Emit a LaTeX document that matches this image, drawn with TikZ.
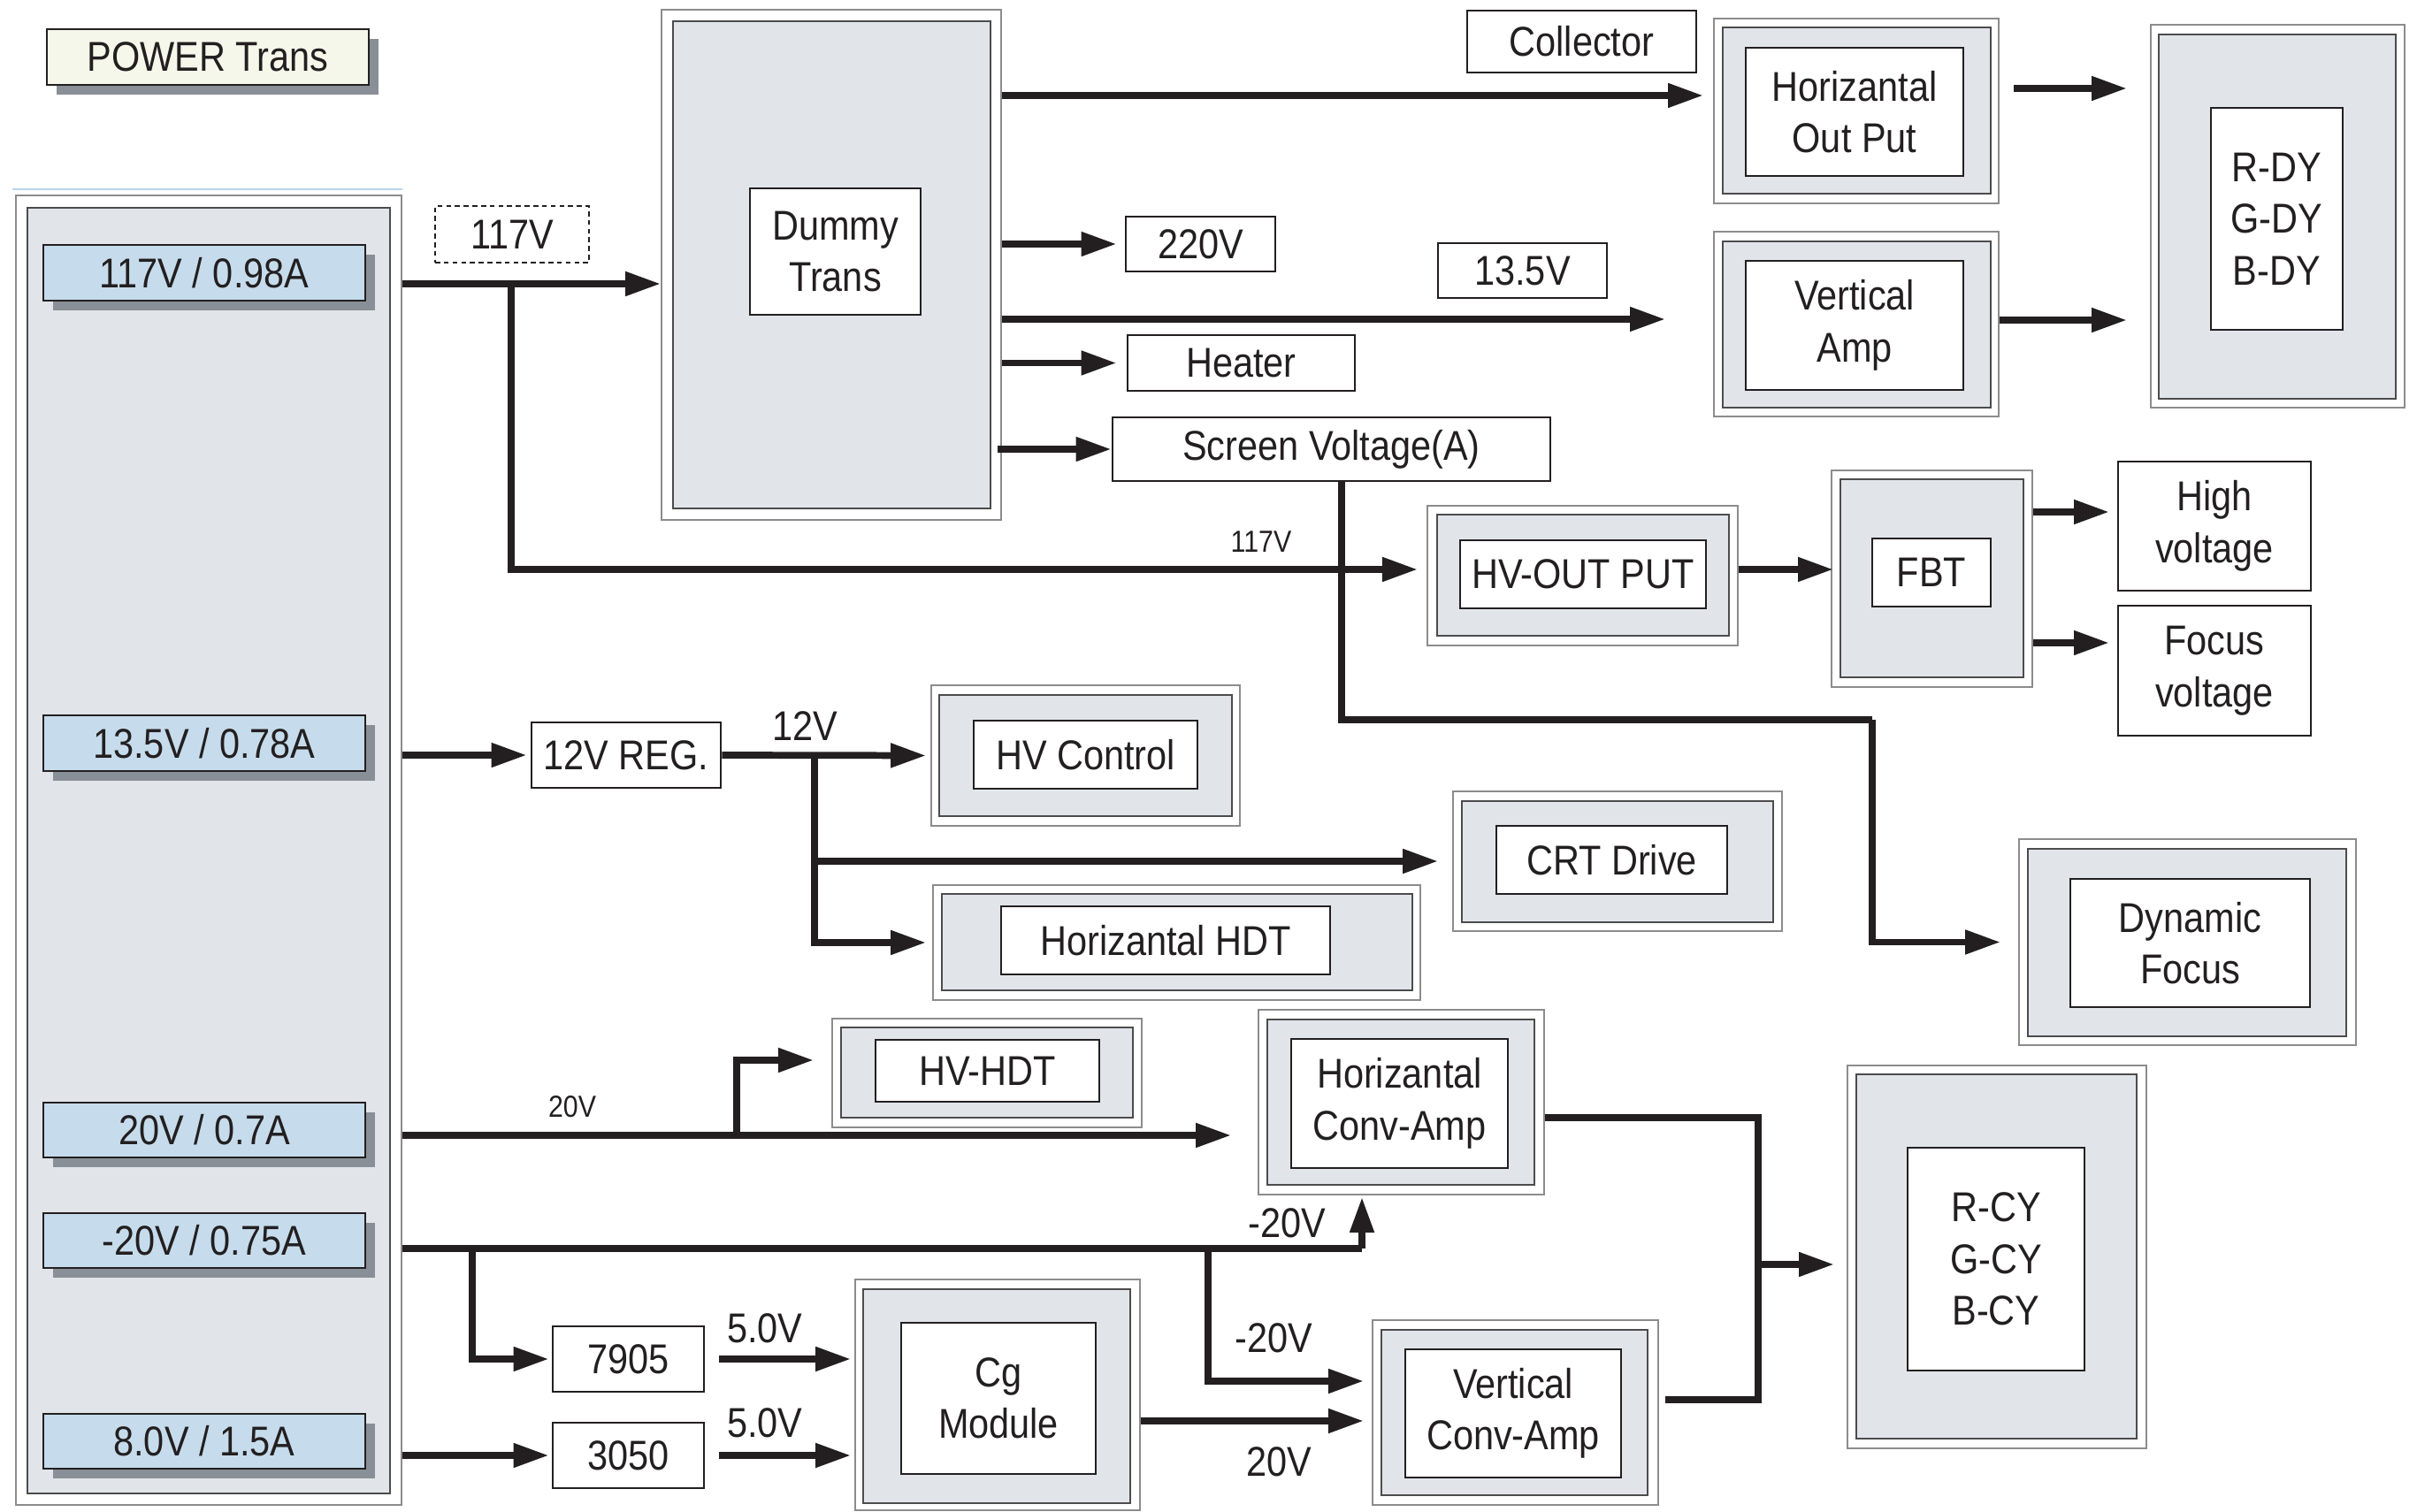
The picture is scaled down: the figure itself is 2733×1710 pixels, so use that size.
\documentclass[tikz,border=0pt]{standalone}
\usepackage{fontspec}
\setmainfont{Liberation Sans}[FakeStretch=0.88]
\usepackage{tikz}
\usetikzlibrary{arrows.meta,fit,shadows}
\definecolor{panelgray}{HTML}{E1E5EA}
\definecolor{vblue}{HTML}{C6DCEC}
\definecolor{shadowgray}{HTML}{898F96}
\definecolor{cream}{HTML}{F5F7EA}
\definecolor{linecol}{HTML}{231F20}
\definecolor{skyline}{HTML}{B9D3EA}
\newcommand{\boxfont}{\fontsize{13.4pt}{16.6pt}\selectfont}
\newcommand{\tinyfont}{\fontsize{9.8pt}{12pt}\selectfont}
\tikzset{
  frame/.style={rectangle, draw=black!45, line width=0.5pt, fill=white, inner sep=0pt},
  panel/.style={rectangle, draw=black!70, line width=0.6pt, fill=panelgray, inner sep=0pt},
  tbox/.style={rectangle, draw=linecol, line width=0.8pt, fill=white, inner sep=0pt},
  vbox/.style={rectangle, draw=linecol, line width=0.7pt, fill=vblue, inner sep=0pt,
    drop shadow={shadow xshift=0.11cm, shadow yshift=-0.11cm, fill=shadowgray, opacity=1}},
  titlebox/.style={vbox, fill=cream},
  dbox/.style={rectangle, draw=linecol, line width=0.5pt, dash pattern=on 1.6pt off 1.2pt, inner sep=0pt},
  vlabel/.style={inner sep=0pt, align=center, text=linecol, font=\boxfont},
  slabel/.style={inner sep=0pt, text=linecol, font=\tinyfont},
  pline/.style={line width=2.2pt, draw=linecol},
  parrow/.style={pline, -{Triangle[length=0.4cm,width=0.26cm]}},
}
% box fitted to two corners, text centred in it
\newcommand{\tbnode}[4][tbox]{%
  \node[#1, fit={#3}] (#2) {};
  \node[vlabel] (#2T) at (#2.center) {#4};}
% outer frame, grey panel and white text box of one unit
\newcommand{\unitbox}[5]{%
  \node[frame, fit={#2}] (#1O) {};
  \node[panel, fit={#3}] (#1G) {};
  \tbnode{#1}{#4}{#5}}

\begin{document}
\begin{tikzpicture}[x=0.01cm, y=-0.01cm]
  \useasboundingbox (0,0) rectangle (2733,1710);

  % power transformer panel
  \tbnode[titlebox]{title}{(53,33)(417,96)}{POWER Trans}
  \node[frame, fit={(18,221)(454,1702)}] (psuO) {};
  \node[panel, fit={(31,235)(441,1689)}] (psu) {};
  \draw[skyline, line width=0.6pt] ([shift={(-0.03cm,0.06cm)}]psuO.north west) -- ([yshift=0.06cm]psuO.north east);
  \tbnode[vbox]{v117}{(49,277)(413,340)}{117V / 0.98A}
  \tbnode[vbox]{v135}{(49,809)(413,872)}{13.5V / 0.78A}
  \tbnode[vbox]{v20}{(49,1247)(413,1309)}{20V / 0.7A}
  \tbnode[vbox]{vm20}{(49,1372)(413,1434)}{-20V / 0.75A}
  \tbnode[vbox]{v8}{(49,1599)(413,1661)}{8.0V / 1.5A}

  % units
  \tbnode[dbox]{t117}{(492,233)(666,297)}{117V}
  \node[frame, fit={(748,11)(1132,588)}] (dummyO) {};
  \node[panel, fit={(761,24)(1120,575)}] (dummyG) {};
  \tbnode{dummy}{(848,213)(1041,356)}{Dummy\\Trans}
  \tbnode{coll}{(1659,12)(1918,82)}{Collector}
  \tbnode{t220}{(1273,245)(1442,307)}{220V}
  \tbnode{t135}{(1626,275)(1817,337)}{13.5V}
  \tbnode{heater}{(1275,379)(1532,442)}{Heater}
  \tbnode{screen}{(1258,472)(1753,544)}{Screen Voltage(A)}
  \unitbox{hop}{(1938,21)(2260,230)}{(1948,31)(2251,219)}{(1974,54)(2220,199)}{Horizantal\\Out Put}
  \unitbox{va}{(1938,262)(2260,471)}{(1948,273)(2251,461)}{(1974,295)(2220,441)}{Vertical\\Amp}
  \unitbox{dy}{(2432,28)(2719,461)}{(2441,39)(2709,451)}{(2500,122)(2649,373)}{R-DY\\G-DY\\B-DY}
  \unitbox{hvo}{(1614,572)(1965,730)}{(1625,582)(1955,719)}{(1651,611)(1929,688)}{HV-OUT PUT}
  \unitbox{fbt}{(2071,532)(2298,777)}{(2081,542)(2288,766)}{(2117,609)(2251,686)}{FBT}
  \tbnode{high}{(2395,522)(2613,668)}{High\\voltage}
  \tbnode{focus}{(2395,685)(2613,832)}{Focus\\voltage}
  \tbnode{reg12}{(601,817)(815,891)}{12V REG.}
  \unitbox{hvc}{(1053,775)(1402,934)}{(1062,786)(1393,923)}{(1101,815)(1354,892)}{HV Control}
  \unitbox{crt}{(1643,895)(2015,1053)}{(1653,906)(2005,1043)}{(1692,934)(1953,1011)}{CRT Drive}
  \unitbox{hdt}{(1055,1001)(1606,1131)}{(1065,1011)(1597,1120)}{(1132,1025)(1504,1102)}{Horizantal HDT}
  \unitbox{df}{(2283,949)(2664,1182)}{(2293,960)(2653,1172)}{(2341,994)(2612,1139)}{Dynamic\\Focus}
  \unitbox{hvh}{(941,1152)(1291,1275)}{(951,1162)(1281,1264)}{(990,1176)(1243,1246)}{HV-HDT}
  \unitbox{hca}{(1423,1142)(1746,1351)}{(1433,1153)(1735,1340)}{(1460,1175)(1705,1321)}{Horizantal\\Conv-Amp}
  \unitbox{cy}{(2089,1205)(2427,1638)}{(2099,1215)(2416,1627)}{(2157,1298)(2357,1550)}{R-CY\\G-CY\\B-CY}
  \tbnode{r7905}{(625,1500)(796,1574)}{7905}
  \tbnode{r3050}{(625,1609)(796,1683)}{3050}
  \unitbox{cg}{(967,1447)(1289,1708)}{(976,1458)(1278,1700)}{(1019,1496)(1239,1667)}{Cg\\Module}
  \unitbox{vca}{(1552,1493)(1875,1702)}{(1562,1504)(1863,1691)}{(1589,1526)(1833,1671)}{Vertical\\Conv-Amp}

  % junctions and arrow ends
  \coordinate (j117) at (578,321);
  \coordinate (hvoA) at (1603,644);
  \coordinate (fbtA) at (2073,644);
  \coordinate (hopA) at (1926,108);
  \coordinate (vaA) at (1883,361);
  \coordinate (dyA) at (2405,100);
  \coordinate (dyB) at (2405,362);
  \coordinate (hvA) at (2385,579);
  \coordinate (fvA) at (2385,727);
  \coordinate (sv) at (1517,814);
  \coordinate (sw) at (2117,814);
  \coordinate (j12) at (921,856);
  \coordinate (j20) at (833,1284);
  \coordinate (hvhA) at (920,1199);
  \coordinate (m20) at (1540,1412);
  \coordinate (j20a) at (534,1412);
  \coordinate (j20b) at (1366,1412);
  \coordinate (vcaA) at (1542,1562);
  \coordinate (vcaB) at (1542,1607);
  \coordinate (mA) at (1988,1264);
  \coordinate (mB) at (1988,1583);
  \coordinate (cyA) at (2074,1430);

  % 117V
  \draw[parrow] (psuO.east |- j117) -- (dummyO.west |- j117);
  \draw[parrow] (j117) |- (hvoA);
  \node[slabel] (l117) at (1426,613) {117V};
  \draw[parrow] (dummyO.east |- hopA) -- (hopA);
  \draw[parrow, shorten >=0.09cm] (dummyO.east |- t220) -- (t220.west);
  \draw[parrow] (dummyO.east |- vaA) -- (vaA);
  \draw[parrow, shorten >=0.11cm] (dummyO.east |- heater) -- (heater.west);
  \draw[parrow] ([xshift=-0.05cm]dummyO.east |- screen) -- (screen.west);
  \draw[pline] (screen.south -| sv) -- (sv) -- (sw);
  \draw[parrow, shorten >=0.2cm] (sw) |- (dfO.west);
  \draw[parrow] ([xshift=0.16cm]hopO.east |- dyA) -- (dyA);
  \draw[parrow] (vaO.east |- dyB) -- (dyB);
  \draw[parrow] (hvoO.east |- fbtA) -- (fbtA);
  \draw[parrow] (fbtO.east |- hvA) -- (hvA);
  \draw[parrow] (fbtO.east |- fvA) -- (fvA);

  % 13.5V
  \draw[parrow, shorten >=0.04cm] (psuO.east |- reg12) -- (reg12.west);
  \draw[parrow, shorten >=0.05cm] (reg12.east) -- (hvcO.west);
  \node[vlabel] (l12) at (910,821) {12V};
  \draw[parrow, shorten >=0.16cm] (j12) |- (crtO.west);
  \draw[parrow, shorten >=0.07cm] (j12) |- (hdtO.west);

  % 20V
  \draw[parrow, shorten >=0.3cm] (psuO.east |- j20) -- (hcaO.west |- j20);
  \node[slabel] (l20) at (647,1252) {20V};
  \draw[parrow] (j20) |- (hvhA);

  % -20V
  \draw[pline] (psuO.east |- m20) -- (m20);
  \draw[parrow, shorten >=0.02cm] (m20) -- (m20 |- hcaO.south);
  \node[vlabel] (lm20a) at (1455,1383) {-20V};
  \draw[parrow] (j20b) |- (vcaA);
  \node[vlabel] (lm20b) at (1440,1513) {-20V};
  \draw[parrow, shorten >=0.03cm] (j20a) |- (r7905.west);

  % 8.0V
  \draw[parrow, shorten >=0.03cm] (psuO.east |- r3050) -- (r3050.west);
  \draw[parrow, shorten >=0.04cm] ([xshift=0.16cm]r7905.east) -- (r7905.east -| cgO.west);
  \node[vlabel] (l5a) at (865,1502) {5.0V};
  \draw[parrow, shorten >=0.04cm] ([xshift=0.16cm]r3050.east) -- (r3050.east -| cgO.west);
  \node[vlabel] (l5b) at (865,1609) {5.0V};
  \draw[parrow] (cgO.east |- vcaB) -- (vcaB);
  \node[vlabel] (l20b) at (1446,1653) {20V};

  % convergence outputs
  \draw[pline] (hcaO.east |- mA) -- (mA) -- (mB) -- ([xshift=0.07cm]vcaO.east |- mB);
  \draw[parrow] (mA |- cyA) -- (cyA);
\end{tikzpicture}
\end{document}
